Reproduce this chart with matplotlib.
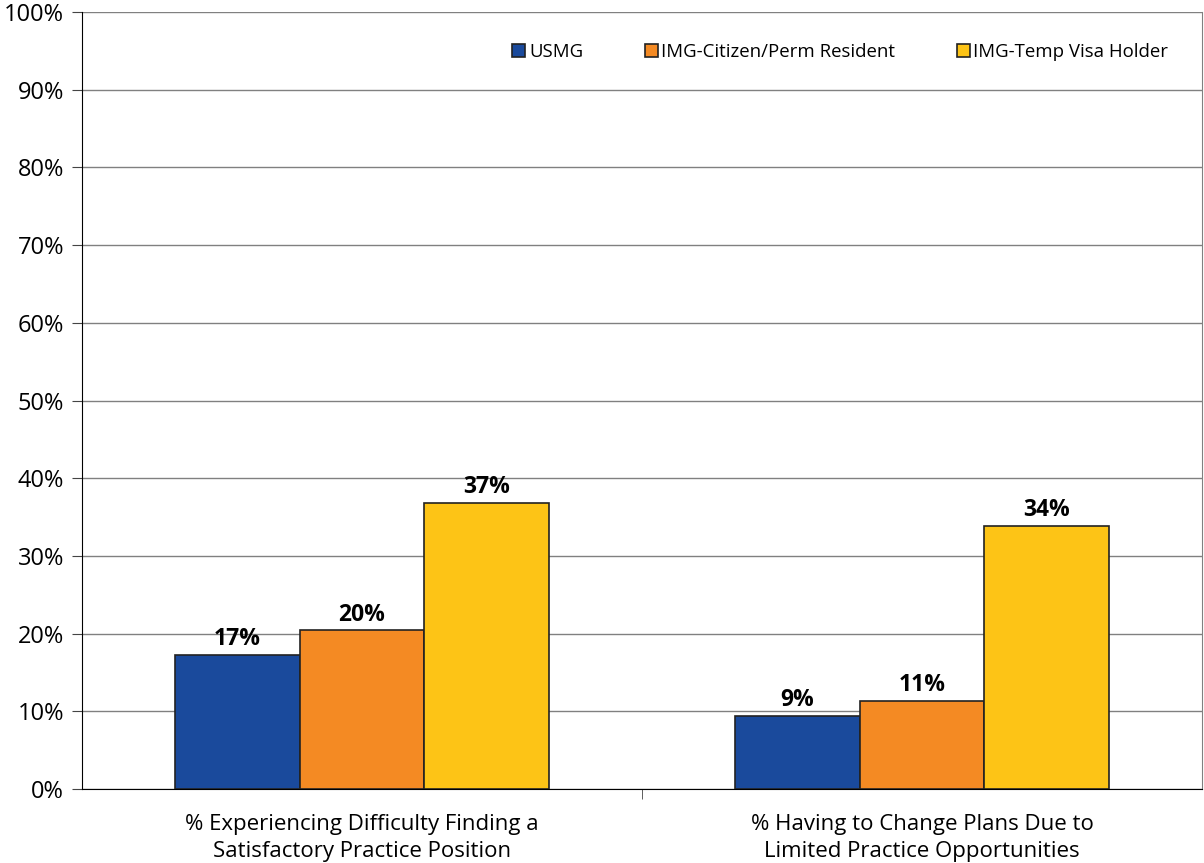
import matplotlib.pyplot as plt
import numpy as np

categories = ['% Experiencing Difficulty Finding a\nSatisfactory Practice Position',
              '% Having to Change Plans Due to\nLimited Practice Opportunities']
series = ['USMG', 'IMG-Citizen/Perm Resident', 'IMG-Temp Visa Holder']
usmg = [17.2, 9.4]
img_citizen = [20.4, 11.3]
img_temp = [36.8, 33.8]
labels = [['17%', '9%'], ['20%', '11%'], ['37%', '34%']]
colors = ['#1A4A9C', '#F48A23', '#FDC416']

plt.rcParams['font.family'] = ['Open Sans', 'DejaVu Sans']

fig = plt.figure(figsize=(12.04, 8.63), dpi=100)
ax = fig.add_axes([82 / 1204, 1 - 789 / 863, 1120 / 1204, 777 / 863])

x = np.arange(len(categories))
width = 0.223
for i, (vals, name) in enumerate(zip([usmg, img_citizen, img_temp], series)):
    pos = x + (i - 1) * width
    ax.bar(pos, vals, width, color=colors[i], edgecolor='#222222', linewidth=1.2,
           label=name, zorder=3)
    for p, v, t in zip(pos, vals, labels[i]):
        ax.text(p, v + 0.5, t, ha='center', va='bottom', fontsize=16.5,
                fontweight='bold', zorder=4)

ax.set_xlim(-0.5, 1.5)
ax.set_ylim(0, 100)
ax.set_yticks(np.arange(0, 101, 10))
ax.set_yticklabels([f'{v}%' for v in range(0, 101, 10)], fontsize=17)
ax.yaxis.grid(True, color='#808080', linewidth=1, zorder=0)
ax.set_xticks(x)
ax.set_xticklabels(categories, fontsize=16, linespacing=1.4)
ax.tick_params(axis='x', which='major', length=0, pad=18)
ax.set_xticks([0.5], minor=True)
ax.tick_params(axis='x', which='minor', length=7, color='#444444')
ax.tick_params(axis='y', length=7, color='#444444', pad=6)
ax.spines['top'].set_visible(False)
ax.spines['right'].set_color('#808080')
ax.spines['left'].set_color('black')
ax.spines['bottom'].set_color('black')

ax.legend(loc='upper right', bbox_to_anchor=(0.985, 0.982), ncol=3, frameon=False,
          fontsize=13.4, handlelength=0.7, handleheight=0.7, handletextpad=0.2,
          columnspacing=3.3)
fig.savefig('out.png', dpi=100)
